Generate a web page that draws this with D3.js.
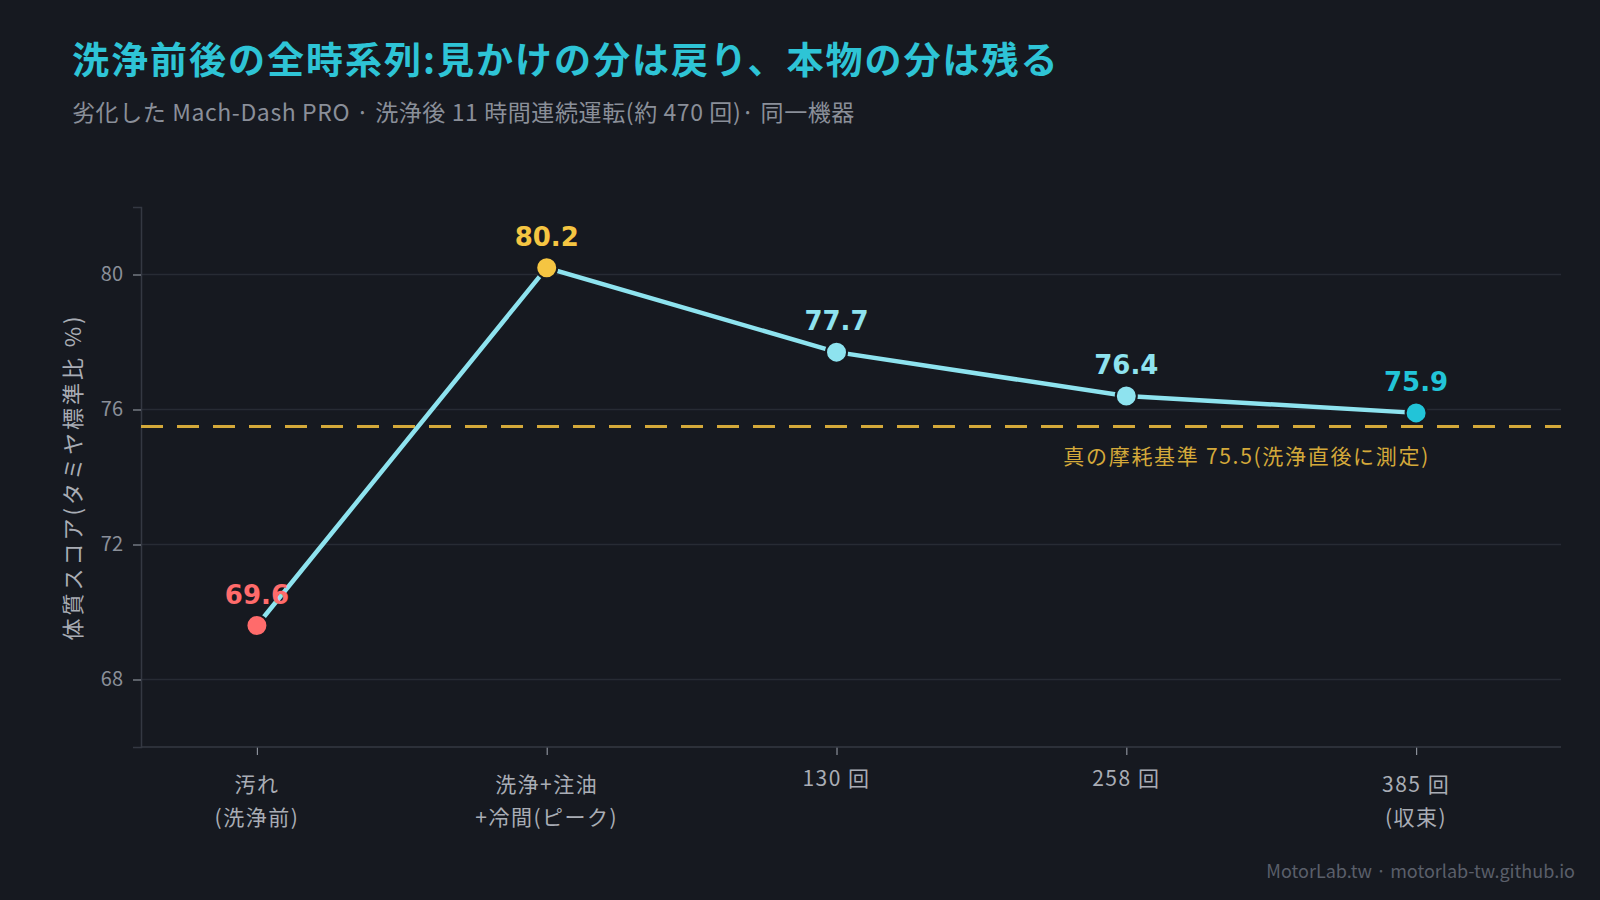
<!DOCTYPE html>
<html>
<head>
<meta charset="utf-8">
<script src="https://cdn.jsdelivr.net/npm/d3@7"></script>
<style>
  body { margin: 0; background: #161920; }
  text { font-family: "Noto Sans CJK JP", "Noto Sans", sans-serif; }
</style>
</head>
<body>
<div id="chart"></div>
<script>
// data
const stages = ["汚れ\n(洗浄前)", "洗浄+注油\n+冷間(ピーク)", "130 回", "258 回", "385 回\n(収束)"]
const scores = [69.6, 80.2, 77.7, 76.4, 75.9]
const pointColors = ["#ff6b6b", "#f5c542", "#8ee3ef", "#8ee3ef", "#22c4d8"]
const yTicks = [68, 72, 76, 80]
const baseline = 75.5

const W = 1600, H = 900
const svg = d3.select("#chart").append("svg")
    .attr("width", W)
    .attr("height", H)
    .style("background-color", "#161920")

const plotLeft = 141, plotRight = 1561, plotTop = 207, plotBottom = 747

const x = d3.scaleLinear().domain([-0.4, 4.5]).range([plotLeft, plotRight])
const y = d3.scaleLinear().domain([66, 82]).range([plotBottom, plotTop])

// title
svg.append("text")
    .attr("x", 72).attr("y", 74)
    .text("洗浄前後の全時系列:見かけの分は戻り、本物の分は残る")
    .style("font-size", "37px")
    .style("letter-spacing", "2px")
    .style("font-weight", "bold")
    .style("fill", "#2ec4d6")

svg.append("text")
    .attr("x", 72).attr("y", 121)
    .text("劣化した Mach-Dash PRO · 洗浄後 11 時間連続運転(約 470 回)· 同一機器")
    .style("font-size", "23px")
    .style("letter-spacing", "0.6px")
    .style("fill", "#8a8f99")

// grid
svg.append("g")
    .selectAll("line")
    .data(yTicks)
    .enter()
    .append("line")
    .attr("x1", plotLeft).attr("x2", plotRight)
    .attr("y1", d => y(d)).attr("y2", d => y(d))
    .style("stroke", "#272b34")
    .style("stroke-width", 1.5)

// axes
const yAxis = svg.append("g")
    .attr("transform", "translate(" + plotLeft + ",0)")
    .call(d3.axisLeft(y).tickValues(yTicks).tickSize(8).tickPadding(10))
yAxis.select(".domain").style("stroke", "#343842").style("stroke-width", 1.5)
yAxis.selectAll(".tick line").style("stroke", "#8a8f99").style("stroke-width", 1.2)
yAxis.selectAll(".tick text")
    .style("font-size", "20px")
    .style("fill", "#8a8f99")
    .style("font-family", "\"Noto Sans CJK JP\", sans-serif")

const xAxis = svg.append("g")
    .attr("transform", "translate(0," + plotBottom + ")")
    .call(d3.axisBottom(x).tickValues(d3.range(stages.length)).tickSize(8).tickFormat(""))
xAxis.select(".domain").remove()
xAxis.selectAll(".tick line").style("stroke", "#8a8f99").style("stroke-width", 1.2)
svg.append("line")
    .attr("x1", plotLeft).attr("x2", plotRight)
    .attr("y1", plotBottom).attr("y2", plotBottom)
    .style("stroke", "#343842").style("stroke-width", 1.5)

// x labels (multi-line)
stages.forEach(function (s, i) {
    const lines = s.split("\n")
    const t = svg.append("text")
        .attr("text-anchor", "middle")
        .style("font-size", "21px")
        .style("letter-spacing", "1.5px")
        .style("fill", "#a9adb5")
    lines.forEach(function (l, j) {
        t.append("tspan")
            .attr("x", x(i))
            .attr("y", (lines.length > 1 ? 792 : 786) + j * 33)
            .text(l)
    })
})

// y label
svg.append("text")
    .attr("transform", "translate(81," + ((plotTop + plotBottom) / 2) + ") rotate(-90)")
    .attr("text-anchor", "middle")
    .text("体質スコア(タミヤ標準比 %)")
    .style("font-size", "22px")
    .style("letter-spacing", "3px")
    .style("fill", "#a9adb5")

// baseline
svg.append("line")
    .attr("x1", plotLeft).attr("x2", plotRight)
    .attr("y1", y(baseline)).attr("y2", y(baseline))
    .style("stroke", "#d4a93a")
    .style("stroke-width", 3)
    .style("stroke-dasharray", "22,14")

svg.append("text")
    .attr("x", 1430).attr("y", y(baseline) + 38)
    .attr("text-anchor", "end")
    .text("真の摩耗基準 75.5(洗浄直後に測定)")
    .style("font-size", "21px")
    .style("letter-spacing", "1.7px")
    .style("fill", "#d4a93a")

// line
const line = d3.line()
    .x((d, i) => x(i))
    .y(d => y(d))

svg.append("path")
    .datum(scores)
    .attr("d", line)
    .style("fill", "none")
    .style("stroke", "#8ee3ef")
    .style("stroke-width", 4.5)

svg.append("g")
    .selectAll("circle")
    .data(scores)
    .enter()
    .append("circle")
    .attr("cx", (d, i) => x(i))
    .attr("cy", d => y(d))
    .attr("r", 10.5)
    .attr("fill", (d, i) => pointColors[i])
    .style("stroke", "#161920")
    .style("stroke-width", 2)

svg.append("g")
    .selectAll("text")
    .data(scores)
    .enter()
    .append("text")
    .attr("x", (d, i) => x(i))
    .attr("y", d => y(d) - 22)
    .attr("text-anchor", "middle")
    .text(d => d.toFixed(1))
    .style("font-family", "\"DejaVu Sans\", sans-serif")
    .style("font-weight", "bold")
    .style("font-size", "26px")
    .style("fill", (d, i) => pointColors[i])

// footer
svg.append("text")
    .attr("x", 1575).attr("y", 878)
    .attr("text-anchor", "end")
    .text("MotorLab.tw · motorlab-tw.github.io")
    .style("font-size", "18px")
    .style("fill", "#5a5f6a")
</script>
</body>
</html>
